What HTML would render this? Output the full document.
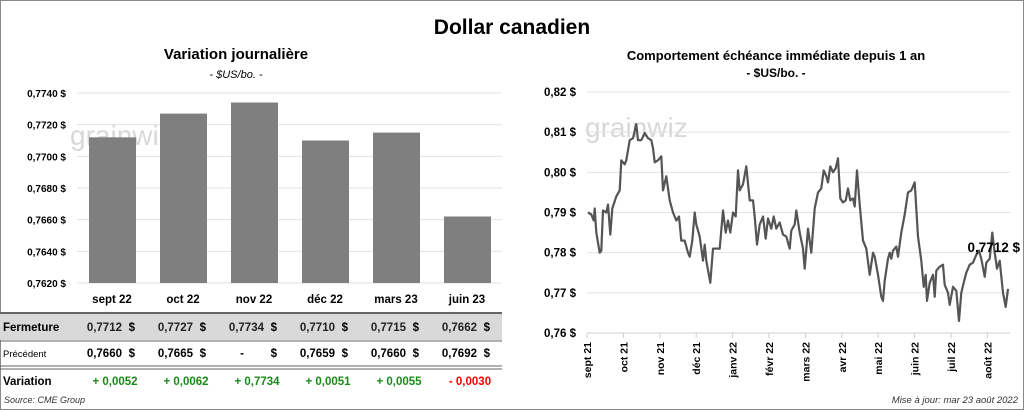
<!DOCTYPE html>
<html><head><meta charset="utf-8"><style>
body{margin:0;width:1024px;height:410px;overflow:hidden;background:#fff;font-family:"Liberation Sans",sans-serif;}
#wrap{position:absolute;left:0;top:0;width:1022px;height:408px;border:1px solid #8a8a8a;}
.t{position:absolute;white-space:nowrap;}
</style></head><body>
<div id="wrap"></div>
<svg id="svg" width="1024" height="410" style="position:absolute;left:0;top:0">
<text x="512" y="34" text-anchor="middle" font-size="21" font-weight="bold">Dollar canadien</text>
<text x="236" y="59" text-anchor="middle" font-size="15" font-weight="bold">Variation  journalière</text>
<text x="236" y="78" text-anchor="middle" font-size="11" font-style="italic">- $US/bo. -</text>
<text x="776" y="60" text-anchor="middle" font-size="13" font-weight="bold">Comportement échéance immédiate depuis 1 an</text>
<text x="776" y="77" text-anchor="middle" font-size="12" font-weight="bold">- $US/bo. -</text>
<text x="70" y="145" font-size="28" fill="#d8d8d8">grainwiz</text>
<text x="585" y="137" font-size="28" fill="#d8d8d8">grainwiz</text>
<g id="left"></g><g id="right"></g><g id="table"></g>
<text x="4" y="403" font-size="9" font-style="italic" fill="#333">Source: CME Group</text>
<text x="1018" y="403" text-anchor="end" font-size="9.5" font-style="italic" fill="#333">Mise à jour: mar 23 août 2022</text>
</svg>
<script>
const barCats=["sept 22","oct 22","nov 22","déc 22","mars 23","juin 23"];
const barVals=[0.7712,0.7727,0.7734,0.7710,0.7715,0.7662];
const barTicks=[0.7620,0.7640,0.7660,0.7680,0.7700,0.7720,0.7740];
const closeVals=["0,7712","0,7727","0,7734","0,7710","0,7715","0,7662"];
const prevVals=["0,7660","0,7665","-","0,7659","0,7660","0,7692"];
const varVals=["+ 0,0052","+ 0,0062","+ 0,7734","+ 0,0051","+ 0,0055","- 0,0030"];
const lineT=[0,2,3.4,4,5,7,8,9,11,12,13.4,14.6,17,19,20,22,23,25,27,29,30,32,34,36,38,39,40,42,44,45,47,49,51,53,54.6,56,58,60,61,62.6,64,65,67,69,70,71,73.4,75,77,79,81,82.6,84,85.4,87,88.6,90,91,93,95,97,99,100,101.4,103,105,106.6,108,110,111.4,113,115,117,119,121,122,124,125,127,129,130,132,134,136,138,140,141.4,143,144,145.4,147,148.6,150,151.4,153,154.6,156,157.4,159,160,161.4,163,165,167,169,171,172,174,176,177,178,180,181,182,183,185,186,188,190,192,194,196,198,200,201.4,202.6,203.4,205,207,208,209,211,213,214,216,217,219,221,222.6,224,225.4,227,229,231,233,234.6,236,238,239,241,242.6,244,245.4,247,249,250.6,252];
const lineV=[0.790,0.7895,0.788,0.791,0.785,0.780,0.7805,0.7905,0.790,0.792,0.7845,0.791,0.794,0.7955,0.803,0.802,0.803,0.808,0.8085,0.812,0.808,0.808,0.8098,0.8085,0.808,0.806,0.8025,0.803,0.804,0.7955,0.799,0.793,0.790,0.788,0.789,0.783,0.783,0.780,0.779,0.783,0.790,0.787,0.784,0.778,0.782,0.778,0.7725,0.781,0.781,0.781,0.7905,0.785,0.788,0.785,0.790,0.789,0.8005,0.7955,0.797,0.8015,0.793,0.793,0.789,0.782,0.787,0.789,0.7835,0.7885,0.786,0.789,0.786,0.7875,0.7845,0.784,0.781,0.7855,0.787,0.7905,0.785,0.781,0.776,0.786,0.780,0.791,0.795,0.796,0.8005,0.799,0.7975,0.8015,0.800,0.801,0.8035,0.7935,0.7925,0.793,0.796,0.793,0.7935,0.7915,0.8005,0.792,0.783,0.781,0.7745,0.780,0.779,0.7745,0.769,0.768,0.773,0.7785,0.780,0.7785,0.7805,0.7815,0.779,0.785,0.7895,0.795,0.7955,0.7975,0.784,0.778,0.7715,0.7745,0.768,0.7725,0.7745,0.769,0.7755,0.7765,0.777,0.772,0.770,0.767,0.7715,0.7705,0.763,0.770,0.7725,0.775,0.777,0.7775,0.7795,0.7805,0.7785,0.774,0.7775,0.7785,0.785,0.780,0.776,0.778,0.770,0.7665,0.771];
const lineTicks=[0.76,0.77,0.78,0.79,0.80,0.81,0.82];
const monthLabels=["sept 21","oct 21","nov 21","déc 21","janv 22","févr 22","mars 22","avr 22","mai 22","juin 22","juil 22","août 22"];
const lastLabel="0,7712 $";
const NS="http://www.w3.org/2000/svg";
function mk(p,tag,a,txt){const e=document.createElementNS(NS,tag);for(const k in a)e.setAttribute(k,a[k]);if(txt!==undefined)e.textContent=txt;p.appendChild(e);return e;}
const fmt4=v=>v.toFixed(4).replace('.',',')+' $';
const fmt2=v=>v.toFixed(2).replace('.',',')+' $';
// left bar chart
const L=document.getElementById('left');
const ly=v=>93+(0.7740-v)/(0.7740-0.7620)*190;
const band=71,lx0=77;
barTicks.forEach(t=>{
 const g=mk(L,'line',{x1:77,x2:502,y1:ly(t),y2:ly(t),stroke:'#e2e2e2','stroke-width':1});
 
 const tx=mk(L,'text',{x:66,y:ly(t)+4,'text-anchor':'end','font-size':10,'font-weight':'bold'},fmt4(t));
 
});
barVals.forEach((v,i)=>{
 const x=lx0+band*i+12;
 const r=mk(L,'rect',{x:x,y:ly(v),width:47,height:ly(0.7620)-ly(v),fill:'#7f7f7f'});
 
});
// table
const T=document.getElementById('table');
const r1=mk(T,'rect',{x:0,y:313,width:502,height:27,fill:'#d9d9d9'});

[[313,'#666',2],[341,'#666',1],[366,'#666',1],[369,'#666',1]].forEach(a=>{const l=mk(T,'line',{x1:0,x2:502,y1:a[0],y2:a[0],stroke:a[1],'stroke-width':a[2]});});
const lab=[["Fermeture",331,11.5,'bold'],["Précédent",357,9.5,'normal'],["Variation",385,11.5,'bold']];
lab.forEach(a=>{const t=mk(T,'text',{x:3,y:a[1],'font-size':a[2],'font-weight':a[3]},a[0]);});
barCats.forEach((c,i)=>{
 const cx=lx0+band*i+35, re=lx0+band*i+45;
 let t=mk(T,'text',{x:cx,y:303,'text-anchor':'middle','font-size':11.5,'font-weight':'bold'},c);
 
 t=mk(T,'text',{x:re,y:331,'text-anchor':'end','font-size':11.5,'font-weight':'bold',fill:'#222'},closeVals[i]);
 
 t=mk(T,'text',{x:re+13,y:331,'text-anchor':'end','font-size':11.5,'font-weight':'bold'},'$');
 
 t=mk(T,'text',{x:prevVals[i]=='-'?re-20:re,y:357,'text-anchor':'end','font-size':11.5,'font-weight':'bold'},prevVals[i]);
 
 t=mk(T,'text',{x:re+13,y:357,'text-anchor':'end','font-size':11.5,'font-weight':'bold'},'$');
 
 t=mk(T,'text',{x:cx+3,y:385,'text-anchor':'middle','font-size':11.5,'font-weight':'bold',fill:varVals[i][0]=='-'?'#ff0000':'#1a8a1a'},varVals[i]);
 
});
// right line chart
const R=document.getElementById('right');
const ry=v=>92+(0.82-v)/0.06*241;
const rx=t=>588+t/252*420;
lineTicks.forEach(t=>{
 if(t>0.76){const g=mk(R,'line',{x1:587,x2:1010,y1:ry(t),y2:ry(t),stroke:'#e2e2e2','stroke-width':1});
 }
 const tx=mk(R,'text',{x:576,y:ry(t)+4,'text-anchor':'end','font-size':11.5,'font-weight':'bold'},fmt2(t));
 
});
const ax=mk(R,'line',{x1:587,x2:1010,y1:ry(0.76),y2:ry(0.76),stroke:'#cfcfcf','stroke-width':1});

monthLabels.forEach((m,i)=>{
 const x=587+i*36.4;
 const tk=mk(R,'line',{x1:x,x2:x,y1:333,y2:338,stroke:'#cfcfcf'});
 
 const t=mk(R,'text',{x:0,y:0,'text-anchor':'end','font-size':10.5,'font-weight':'bold',transform:`translate(${x+4},342) rotate(-90)`},m);
 
});
const d=lineT.map((t,i)=>(i?'L':'M')+rx(t).toFixed(1)+','+ry(lineV[i]).toFixed(1)).join(' ');
const p=mk(R,'path',{d:d,fill:'none',stroke:'#555','stroke-width':2.2,'stroke-linejoin':'round'});

const ll=mk(R,'text',{x:1020,y:252,'text-anchor':'end','font-size':13.5,'font-weight':'bold'},lastLabel);

</script>
</body></html>
